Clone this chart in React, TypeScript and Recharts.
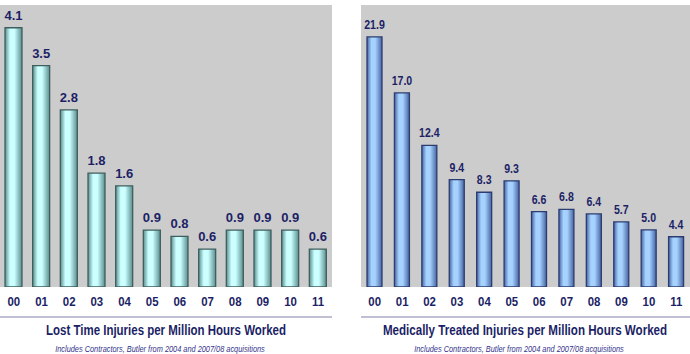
import { BarChart, Bar, XAxis, YAxis, CartesianGrid, LabelList } from 'recharts'

const years = ['00', '01', '02', '03', '04', '05', '06', '07', '08', '09', '10', '11']
const lostTime = [4.1, 3.5, 2.8, 1.8, 1.6, 0.9, 0.8, 0.6, 0.9, 0.9, 0.9, 0.6]
const medical = [21.9, 17.0, 12.4, 9.4, 8.3, 9.3, 6.6, 6.8, 6.4, 5.7, 5.0, 4.4]
const edgeTicks = [0, 1, 2, 3, 4, 5, 6, 7, 8, 9, 10, 11, 12]

const leftTitle = 'Lost Time Injuries per Million Hours Worked'
const rightTitle = 'Medically Treated Injuries per Million Hours Worked'
const note = 'Includes Contractors, Butler from 2004 and 2007/08 acquisitions'

const NAVY = '#1c1f66'
const FONT = 'Arial, "Liberation Sans", sans-serif'

const leftData = years.map((y, i) => ({ year: y, value: lostTime[i] }))
const rightData = years.map((y, i) => ({ year: y, value: medical[i] }))

// squeezed bold text, to look like Arial Narrow
function NarrowText({ x, y, text, size, sx, len, italic, color }: any) {
    return (
        <text
            transform={`translate(${x},${y}) scale(${sx},1)`}
            textAnchor="middle"
            fontFamily={FONT}
            fontWeight={italic ? 'normal' : 'bold'}
            fontStyle={italic ? 'italic' : 'normal'}
            fontSize={size}
            fill={color || NAVY}
            textLength={len}
            lengthAdjust={len ? 'spacingAndGlyphs' : undefined}
        >
            {text}
        </text>
    )
}

const YearTick = (props: any) => {
    const { x, y, payload } = props
    return <NarrowText x={x} y={y + 19} text={payload.value} size={13} sx={0.88} />
}

const makeLabel = (size: number, sx: number) => (props: any) => {
    const { x, y, width, value } = props
    return <NarrowText x={x + width / 2} y={y - 8} text={Number(value).toFixed(1)} size={size} sx={sx} />
}

function Panel({ data, id, max, barSize, margin, c1, c2, edge, labelSize, labelSx }: any) {
    return (
        <BarChart width={345} height={354} data={data} margin={margin} barCategoryGap={0}>
            <defs>
                <linearGradient id={id} x1="0" y1="0" x2="1" y2="0">
                    <stop offset="0%" stopColor={c2} />
                    <stop offset="30%" stopColor={c1} />
                    <stop offset="55%" stopColor={c1} />
                    <stop offset="100%" stopColor={c2} />
                </linearGradient>
            </defs>
            <CartesianGrid fill="#cccccc" stroke="none" horizontal={false} vertical={false} />
            <XAxis
                xAxisId="edge"
                type="number"
                domain={[0, 12]}
                ticks={edgeTicks}
                tick={false}
                tickSize={4}
                height={4}
                stroke="#8080a8"
                allowDataOverflow
            />
            <XAxis
                xAxisId="cat"
                dataKey="year"
                height={30}
                axisLine={false}
                tickLine={false}
                tickSize={0}
                tickMargin={0}
                interval={0}
                tick={<YearTick />}
            />
            <YAxis hide domain={[0, max]} allowDataOverflow />
            <Bar
                xAxisId="cat"
                dataKey="value"
                barSize={barSize}
                fill={`url(#${id})`}
                stroke={edge}
                strokeWidth={1.3}
                isAnimationActive={false}
            >
                <LabelList dataKey="value" content={makeLabel(labelSize, labelSx)} />
            </Bar>
        </BarChart>
    )
}

export default function App() {
    return (
        <div style={{ position: 'absolute', left: 0, top: 0, width: 690, height: 354, background: '#fff' }}>
            <div style={{ position: 'absolute', left: 0, top: 0 }}>
                <Panel
                    data={leftData}
                    id="gLeft"
                    max={4.46}
                    barSize={17}
                    margin={{ top: 5, right: 13, left: 0, bottom: 33 }}
                    c1="#ccffff"
                    c2="#5a8d8d"
                    edge="#3f5f5f"
                    labelSize={13}
                    labelSx={1}
                />
            </div>
            <div style={{ position: 'absolute', left: 345, top: 0 }}>
                <Panel
                    data={rightData}
                    id="gRight"
                    max={24.7}
                    barSize={15}
                    margin={{ top: 5, right: 0, left: 16, bottom: 33 }}
                    c1="#a6d2ff"
                    c2="#4664a2"
                    edge="#2c3c70"
                    labelSize={12}
                    labelSx={0.88}
                />
            </div>
            <svg width={690} height={354} style={{ position: 'absolute', left: 0, top: 0, pointerEvents: 'none' }}>
                <NarrowText x={166} y={335} text={leftTitle} size={14} sx={0.75} len={320} />
                <NarrowText x={160} y={352} text={note} size={9} sx={0.8} len={262} italic color="#33338a" />
                <NarrowText x={525} y={335} text={rightTitle} size={14} sx={0.75} len={379} />
                <NarrowText x={519} y={352} text={note} size={9} sx={0.8} len={262} italic color="#33338a" />
            </svg>
        </div>
    )
}
